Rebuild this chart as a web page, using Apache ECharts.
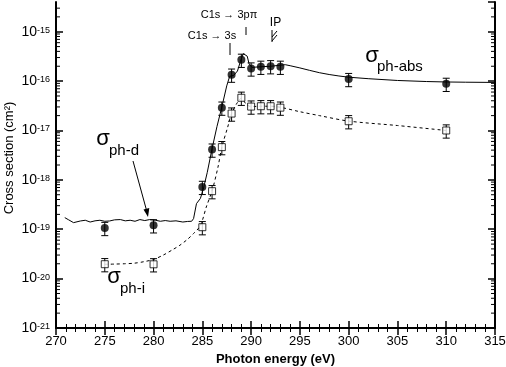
<!DOCTYPE html>
<html>
<head>
<meta charset="utf-8">
<script src="https://cdn.jsdelivr.net/npm/echarts@6/dist/echarts.min.js"></script>
<style>
    html, body { margin: 0; padding: 0; background: #fff; }
    #chart { width: 506px; height: 367px; }
</style>
</head>
<body>
<div id="chart"></div>
<script>
    // measured points (filled circles = absorption, open squares = ionisation)
    var absE = [275, 280, 285, 286, 287, 288, 289, 290, 291, 292, 293, 300, 310]
    var absVal = [1.06e-19, 1.2e-19, 7.2e-19, 4.1e-18, 2.9e-17, 1.35e-16, 2.7e-16, 1.8e-16, 1.95e-16, 2.0e-16, 1.95e-16, 1.1e-16, 8.8e-17]
    var absErr = [0.3, 0.3, 0.3, 0.3, 0.3, 0.3, 0.3, 0.3, 0.3, 0.3, 0.3, 0.3, 0.3]

    var ionE = [275, 280, 285, 286, 287, 288, 289, 290, 291, 292, 293, 300, 310]
    var ionVal = [1.96e-20, 1.95e-20, 1.1e-19, 5.9e-19, 4.6e-18, 2.2e-17, 4.6e-17, 3.05e-17, 3.1e-17, 3.1e-17, 2.9e-17, 1.54e-17, 1.0e-17]
    var ionErr = [0.3, 0.3, 0.3, 0.3, 0.3, 0.3, 0.3, 0.3, 0.3, 0.3, 0.3, 0.3, 0.3]

    // absorption spectrum (solid line)
    var absLineE = [270.9, 271.3, 271.8, 272.5, 273.0, 273.5, 274.0, 274.5, 275.0, 275.5, 276.0, 276.6, 277.1, 277.6,
        278.1, 278.6, 279.1, 279.6, 280.2, 280.7, 281.2, 281.7, 282.3, 283.0, 283.5, 283.9, 284.1, 284.4, 284.8,
        285.1, 285.5, 286.0, 286.5, 287.0, 287.5, 287.8, 288.2, 288.6, 288.9, 289.2, 289.4, 289.6, 289.8, 290.1,
        291, 292, 293, 293.5, 294, 295, 296, 297, 298, 299, 300, 302, 305, 308, 310, 312, 315]
    var absLineY = [1.72e-19, 1.55e-19, 1.36e-19, 1.47e-19, 1.52e-19, 1.40e-19, 1.48e-19, 1.52e-19, 1.45e-19, 1.47e-19,
        1.55e-19, 1.57e-19, 1.48e-19, 1.52e-19, 1.45e-19, 1.57e-19, 1.50e-19, 1.57e-19, 1.52e-19, 1.45e-19, 1.50e-19,
        1.45e-19, 1.48e-19, 1.40e-19, 1.44e-19, 1.45e-19, 1.64e-19, 3.3e-19, 4.2e-19, 6.5e-19, 1.4e-18, 4.3e-18,
        1.2e-17, 3.0e-17, 8e-17, 1.25e-16, 1.3e-16, 1.6e-16, 2.5e-16, 3.6e-16, 3.8e-16, 3.2e-16, 2.2e-16, 1.9e-16,
        1.95e-16, 2.0e-16, 2.1e-16, 2.15e-16, 2.05e-16, 1.85e-16, 1.65e-16, 1.48e-16, 1.36e-16, 1.27e-16, 1.2e-16,
        1.12e-16, 1.03e-16, 9.8e-17, 9.6e-17, 9.5e-17, 9.4e-17]

    // ionisation curve (dashed line)
    var ionLineE = [275, 276, 277, 278, 279, 280, 281, 282, 282.7, 283.5, 284.1, 284.7, 285.0, 285.4, 286.0, 286.6,
        287.0, 287.6, 288.0, 288.6, 289.0, 289.5, 290, 291, 292, 293, 295, 297, 300, 305, 310]
    var ionLineY = [1.95e-20, 1.97e-20, 2.0e-20, 2.05e-20, 2.2e-20, 2.45e-20, 3.0e-20, 3.9e-20, 4.75e-20, 6.3e-20,
        8.2e-20, 1.1e-19, 1.5e-19, 2.8e-19, 6e-19, 1.8e-18, 4.6e-18, 1.17e-17, 2.2e-17, 3.7e-17, 4.5e-17, 3.4e-17,
        3.05e-17, 3.1e-17, 3.1e-17, 2.95e-17, 2.4e-17, 2.0e-17, 1.55e-17, 1.26e-17, 1.0e-17]

    var xMin = 270, xMax = 315
    var yMin = 1e-21, yMax = 4e-15
    var FONT = '"Liberation Sans", Arial, Helvetica, sans-serif'

    function pairs(xs, ys) {
        var out = []
        for (var i = 0; i < xs.length; i++) out.push([xs[i], ys[i]])
        return out
    }

    function errRows(xs, ys, rel) {
        var out = []
        for (var i = 0; i < xs.length; i++) out.push([xs[i], ys[i] * (1 - rel[i]), ys[i] * (1 + rel[i])])
        return out
    }

    // log minor ticks 2..9 in every decade (axis decoration)
    var minorVals = []
    for (var d = -21; d <= -15; d++) {
        for (var k = 2; k <= 9; k++) {
            var v = k * Math.pow(10, d)
            if (v < yMax) minorVals.push([xMin, v])
        }
    }

    function renderErr(params, api) {
        var top = api.coord([api.value(0), api.value(2)])
        var bot = api.coord([api.value(0), api.value(1)])
        var st = { stroke: '#000', lineWidth: 1 }
        return {
            type: 'group',
            children: [
                { type: 'line', shape: { x1: top[0], y1: top[1], x2: bot[0], y2: bot[1] }, style: st },
                { type: 'line', shape: { x1: top[0] - 3.5, y1: top[1], x2: top[0] + 3.5, y2: top[1] }, style: st },
                { type: 'line', shape: { x1: bot[0] - 3.5, y1: bot[1], x2: bot[0] + 3.5, y2: bot[1] }, style: st }
            ]
        }
    }

    function renderMinor(params, api) {
        var l = api.coord([xMin, api.value(1)])
        var r = api.coord([xMax, api.value(1)])
        var st = { stroke: '#000', lineWidth: 1 }
        return {
            type: 'group',
            children: [
                { type: 'line', shape: { x1: l[0], y1: l[1], x2: l[0] + 4, y2: l[1] }, style: st },
                { type: 'line', shape: { x1: r[0] - 4, y1: r[1], x2: r[0], y2: r[1] }, style: st }
            ]
        }
    }

    var powRich = {
        b: { fontFamily: FONT, fontSize: 14, color: '#000', lineHeight: 12 },
        s: { fontFamily: FONT, fontSize: 9, color: '#000', verticalAlign: 'top', lineHeight: 12 }
    }

    var axisLineStyle = { color: '#000', width: 2 }

    var xBase = {
        type: 'value', min: xMin, max: xMax, interval: 5,
        axisLine: { lineStyle: axisLineStyle },
        axisTick: { inside: true, length: 7, lineStyle: { color: '#000', width: 1.5 } },
        minorTick: { show: true, splitNumber: 5, length: 4, lineStyle: { color: '#000', width: 1 } },
        splitLine: { show: false }
    }

    var yBase = {
        type: 'log', min: yMin, max: yMax, logBase: 10,
        axisLine: { lineStyle: axisLineStyle },
        axisTick: { inside: true, length: 7, lineStyle: { color: '#000', width: 1.5 } },
        splitLine: { show: false }
    }

    var option = {
        animation: false,
        backgroundColor: '#fff',
        grid: { left: 56, right: 11, top: 2, bottom: 39, containLabel: false, outerBoundsMode: 'none' },
        xAxis: [
        Object.assign({}, xBase, {
            position: 'bottom',
            name: 'Photon energy (eV)', nameLocation: 'middle', nameGap: 18,
            nameTextStyle: { fontFamily: FONT, fontSize: 13, fontWeight: 'bold', color: '#000' },
            axisLabel: { fontFamily: FONT, fontSize: 13, color: '#000', margin: 7, hideOverlap: false, lineHeight: 13 }
        }),
        Object.assign({}, xBase, { position: 'top', axisLabel: { show: false } })
        ],
        yAxis: [
        Object.assign({}, yBase, {
            position: 'left',
            axisLabel: {
                margin: 6,
                showMinLabel: false,
                showMaxLabel: false,
                hideOverlap: false,
                formatter: function (v) {
                    if (!(v > 0)) return ''
                    var lg = Math.log10(v)
                    var e = Math.round(lg)
                    if (Math.abs(lg - e) > 1e-6) return ''
                    return '{b|10}{s|' + e + '}'
                },
                rich: powRich
            }
        }),
        Object.assign({}, yBase, { position: 'right', axisLabel: { show: false } })
        ],
        series: [
            {
                type: 'custom', renderItem: renderMinor, data: minorVals, silent: true,
                encode: { x: 0, y: 1 }, z: 1
            },
            {
                type: 'line', data: pairs(absLineE, absLineY), showSymbol: false, symbol: 'none',
                lineStyle: { color: '#000', width: 1 }, z: 2
            },
            {
                type: 'line', data: pairs(ionLineE, ionLineY), showSymbol: false, symbol: 'none', smooth: 0.3,
                lineStyle: { color: '#000', width: 1, type: [3, 3] }, z: 2
            },
            {
                type: 'custom', renderItem: renderErr, data: errRows(absE, absVal, absErr),
                encode: { x: 0, y: [1, 2] }, z: 3
            },
            {
                type: 'custom', renderItem: renderErr, data: errRows(ionE, ionVal, ionErr),
                encode: { x: 0, y: [1, 2] }, z: 3
            },
            {
                type: 'scatter', data: pairs(absE, absVal), symbol: 'circle', symbolSize: 8,
                itemStyle: { color: '#000' }, z: 4
            },
            {
                type: 'scatter', data: pairs(ionE, ionVal), symbol: 'rect', symbolSize: 7,
                itemStyle: { color: '#fff', borderColor: '#000', borderWidth: 1 }, z: 4
            }
        ],
        graphic: [
            // bottom y label: echarts drops it next to the x axis labels
            {
                type: 'text', x: 50, y: 328,
                style: { text: '{b|10}{s|-21}', rich: powRich, align: 'right', verticalAlign: 'middle' }
            },
            {
                type: 'text', x: 9, y: 158, rotation: Math.PI / 2,
                style: { text: 'Cross section (cm²)', font: '13px ' + FONT, fill: '#000', align: 'center', verticalAlign: 'middle' }
            },
            // resonance labels
            { type: 'text', x: 229, y: 15, style: { text: 'C1s → 3pπ', font: '11px ' + FONT, fill: '#000', align: 'center', verticalAlign: 'middle' } },
            { type: 'line', shape: { x1: 246, y1: 27, x2: 246, y2: 35 }, style: { stroke: '#000', lineWidth: 1 } },
            { type: 'text', x: 212, y: 36, style: { text: 'C1s → 3s', font: '11px ' + FONT, fill: '#000', align: 'center', verticalAlign: 'middle' } },
            { type: 'line', shape: { x1: 230, y1: 43, x2: 230, y2: 55 }, style: { stroke: '#000', lineWidth: 1 } },
            { type: 'text', x: 275.5, y: 23, style: { text: 'IP', font: '12px ' + FONT, fill: '#000', align: 'center', verticalAlign: 'middle' } },
            { type: 'line', shape: { x1: 272, y1: 30, x2: 272, y2: 42 }, style: { stroke: '#000', lineWidth: 1 } },
            { type: 'line', shape: { x1: 272, y1: 37, x2: 277, y2: 31 }, style: { stroke: '#000', lineWidth: 1 } },
            { type: 'line', shape: { x1: 272, y1: 41, x2: 277, y2: 35 }, style: { stroke: '#000', lineWidth: 1 } },
            // series labels
            { type: 'text', x: 372, y: 56, style: { text: 'σ', font: '22px ' + FONT, fill: '#000', align: 'center', verticalAlign: 'middle' } },
            { type: 'text', x: 377, y: 67, style: { text: 'ph-abs', font: '15px ' + FONT, fill: '#000', align: 'left', verticalAlign: 'middle' } },
            { type: 'text', x: 103, y: 139, style: { text: 'σ', font: '22px ' + FONT, fill: '#000', align: 'center', verticalAlign: 'middle' } },
            { type: 'text', x: 109, y: 151, style: { text: 'ph-d', font: '15px ' + FONT, fill: '#000', align: 'left', verticalAlign: 'middle' } },
            { type: 'text', x: 114, y: 277, style: { text: 'σ', font: '22px ' + FONT, fill: '#000', align: 'center', verticalAlign: 'middle' } },
            { type: 'text', x: 120, y: 289, style: { text: 'ph-i', font: '15px ' + FONT, fill: '#000', align: 'left', verticalAlign: 'middle' } },
            // arrow to the dissociation baseline
            { type: 'line', shape: { x1: 133, y1: 161, x2: 147, y2: 212 }, style: { stroke: '#000', lineWidth: 1 } },
            { type: 'polygon', shape: { points: [[148, 217], [143.5, 209.5], [149.3, 208]] }, style: { fill: '#000' } }
        ]
    }

    var chart = echarts.init(document.getElementById('chart'))
    chart.setOption(option)
</script>
</body>
</html>
